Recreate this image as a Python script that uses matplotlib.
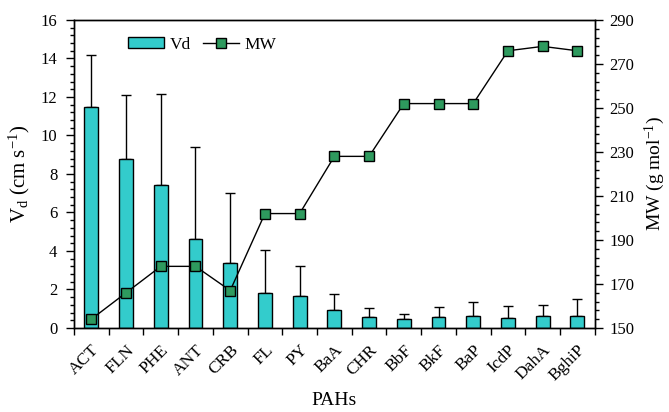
import matplotlib
matplotlib.use("Agg")
import matplotlib.pyplot as plt
import numpy as np
from matplotlib.ticker import MultipleLocator, FixedLocator
from matplotlib.patches import Patch
from matplotlib.lines import Line2D

plt.rcParams['font.family'] = ['Liberation Serif', 'DejaVu Serif']
plt.rcParams['mathtext.fontset'] = 'custom'
plt.rcParams['mathtext.rm'] = 'Liberation Serif'
plt.rcParams['mathtext.it'] = 'Liberation Serif:italic'

# data
pahs = ['ACT', 'FLN', 'PHE', 'ANT', 'CRB', 'FL', 'PY', 'BaA', 'CHR',
        'BbF', 'BkF', 'BaP', 'IcdP', 'DahA', 'BghiP']
vd = [11.5, 8.8, 7.43, 4.6, 3.38, 1.83, 1.66, 0.93, 0.58,
      0.44, 0.55, 0.63, 0.5, 0.6, 0.6]
vd_err = [2.7, 3.3, 4.75, 4.8, 3.63, 2.22, 1.58, 0.84, 0.44,
          0.3, 0.54, 0.72, 0.62, 0.6, 0.92]
mw = [154, 166, 178, 178, 167, 202, 202, 228, 228,
      252, 252, 252, 276, 278, 276]

bar_col = '#33CCCC'
mk_col = '#2E9A5E'

fig = plt.figure(figsize=(6.69, 4.12), dpi=100)
ax1 = fig.add_axes([0.1106, 0.204, 0.7784, 0.7475])
ax2 = ax1.twinx()

x = np.arange(len(pahs))
ax1.bar(x, vd, width=0.4, color=bar_col, edgecolor='black', linewidth=1.0, zorder=2)
ax1.errorbar(x, vd, yerr=[np.zeros(len(vd)), vd_err], fmt='none', ecolor='black',
             elinewidth=1.0, capsize=3.5, capthick=1.0, zorder=1)

ax2.plot(x, mw, color='black', linewidth=1.0, marker='s', markersize=6.5,
         markerfacecolor=mk_col, markeredgecolor='black', markeredgewidth=1.0)

ax1.set_xlim(-0.5, len(pahs) - 0.5)
ax1.set_ylim(0, 16)
ax2.set_ylim(150, 290)

ax1.yaxis.set_major_locator(MultipleLocator(2))
ax1.yaxis.set_minor_locator(MultipleLocator(0.4))
ax2.yaxis.set_major_locator(FixedLocator(np.arange(150, 291, 20)))
ax2.yaxis.set_minor_locator(FixedLocator(np.arange(150, 291, 4)))

ax1.set_xticks(x)
ax1.set_xticklabels(pahs, rotation=45, ha='right', rotation_mode='anchor')
ax1.xaxis.set_minor_locator(FixedLocator(np.arange(-0.5, len(pahs), 1.0)))
ax1.tick_params(axis='x', which='major', length=0, pad=10, labelsize=12.5)
ax1.tick_params(axis='x', which='minor', length=5, width=1.0, direction='out')
ax1.tick_params(axis='y', which='major', length=6, width=1.0, labelsize=12, pad=6)
ax1.tick_params(axis='y', which='minor', length=3, width=1.0)
ax2.tick_params(axis='y', which='major', length=6, width=1.0, labelsize=12, pad=4.5)
ax2.tick_params(axis='y', which='minor', length=3, width=1.0)

for ax in (ax1, ax2):
    for s in ax.spines.values():
        s.set_linewidth(1.0)

ax1.set_xlabel('PAHs', fontsize=14, labelpad=6)
ax1.set_ylabel(r'V$_\mathrm{d}$ (cm s$^{\mathrm{-1}}$)', fontsize=15, labelpad=6)
ax2.set_ylabel(r'MW (g mol$^{\mathrm{-1}}$)', fontsize=14, labelpad=6)

handles = [Patch(facecolor=bar_col, edgecolor='black', linewidth=1.0),
           Line2D([], [], color='black', linewidth=1.0, marker='s', markersize=6.5,
                  markerfacecolor=mk_col, markeredgecolor='black')]
ax1.legend(handles, ['Vd', 'MW'], ncol=2, frameon=False, fontsize=12.5,
           loc='center left', bbox_to_anchor=(0.09, 0.92),
           handlelength=2.1, handleheight=0.6, handletextpad=0.3,
           columnspacing=0.7, borderaxespad=0)

fig.savefig('out.png', dpi=100)
